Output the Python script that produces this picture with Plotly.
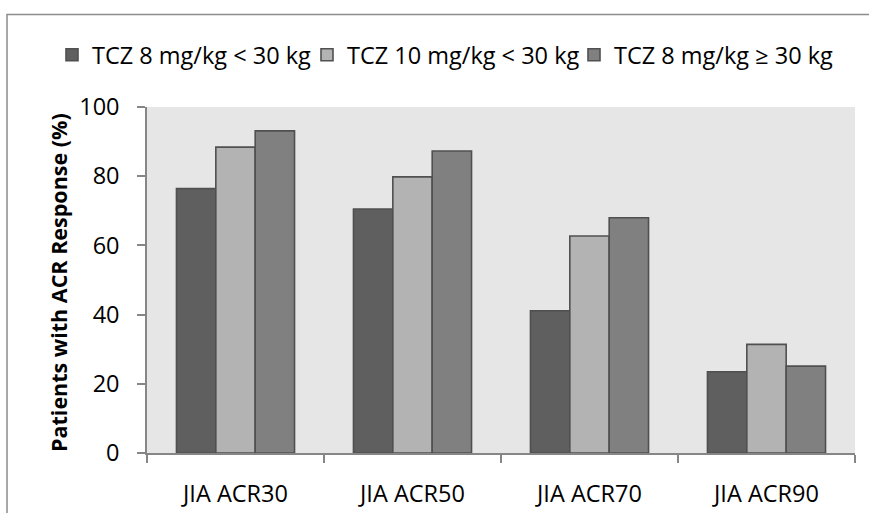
import plotly.graph_objects as go

categories = ["JIA ACR30", "JIA ACR50", "JIA ACR70", "JIA ACR90"]
series_names = ["TCZ 8 mg/kg < 30 kg", "TCZ 10 mg/kg < 30 kg", "TCZ 8 mg/kg ≥ 30 kg"]
tcz8_lt30 = [76.4, 70.5, 41.1, 23.5]
tcz10_lt30 = [88.4, 79.8, 62.7, 31.4]
tcz8_ge30 = [93.1, 87.3, 68.0, 25.1]
y_ticks = [0, 20, 40, 60, 80, 100]

colors = ["#5f5f5f", "#b3b3b3", "#808080"]
legend_ids = ["legend", "legend2", "legend3"]
FONT = "Open Sans"
FS = 23.5

fig = go.Figure()
for name, vals, col, lg in zip(series_names, [tcz8_lt30, tcz10_lt30, tcz8_ge30], colors, legend_ids):
    fig.add_trace(go.Bar(
        x=categories, y=vals, name=name, legend=lg,
        marker=dict(color=col, line=dict(color="#505050", width=1.6)),
    ))

W, H = 869, 513
L, R, T, B = 147, 14, 107, 60
pw, ph = W - L - R, H - T - B

def px_x(x):
    return (x - L) / pw

def px_y(y):
    return (H - B - y) / ph

def legend_at(xpx):
    return dict(
        orientation="h",
        x=px_x(xpx), xanchor="left",
        y=px_y(55), yanchor="middle",
        font=dict(family=FONT, size=FS, color="black"),
        itemwidth=30,
        bgcolor="rgba(0,0,0,0)",
    )

fig.update_layout(
    width=W, height=H,
    margin=dict(l=L, r=R, t=T, b=B, pad=0, autoexpand=False),
    paper_bgcolor="white",
    plot_bgcolor="#e6e6e6",
    barmode="group",
    bargap=0.333,
    bargroupgap=0,
    font=dict(family=FONT, size=FS, color="black"),
    showlegend=True,
    legend=legend_at(52),
    legend2=legend_at(307),
    legend3=legend_at(574),
    xaxis=dict(
        automargin=False,
        showline=True, linecolor="#868686", linewidth=1.5,
        ticks="outside", tickson="boundaries", ticklen=8, tickcolor="#868686",
        tickwidth=1.5,
        showgrid=False,
        ticklabelstandoff=19,
        tickfont=dict(family=FONT, size=FS, color="black"),
    ),
    yaxis=dict(
        automargin=False,
        range=[0, 100],
        tickvals=y_ticks,
        showline=True, linecolor="#868686", linewidth=1.5,
        ticks="outside", ticklen=8, tickcolor="#868686", tickwidth=1.5,
        showgrid=False, zeroline=False,
        ticklabelstandoff=13,
        tickfont=dict(family=FONT, size=FS, color="black"),
    ),
    annotations=[dict(
        text="<b>Patients with ACR Response (%)</b>",
        xref="paper", yref="paper",
        x=px_x(58), y=px_y(283), xanchor="center", yanchor="middle",
        textangle=-90, showarrow=False,
        font=dict(family=FONT, size=21.5, color="black"),
    )],
    shapes=[dict(
        type="rect", xref="paper", yref="paper",
        x0=px_x(7), x1=px_x(880), y0=px_y(530), y1=px_y(14.5),
        line=dict(color="#8c8c8c", width=1.5),
        fillcolor="rgba(0,0,0,0)", layer="below",
    )],
)

fig.write_html(
    "out.html",
    config={"displayModeBar": False},
    post_script="document.body.style.margin='0';document.body.style.overflow='hidden';",
)
